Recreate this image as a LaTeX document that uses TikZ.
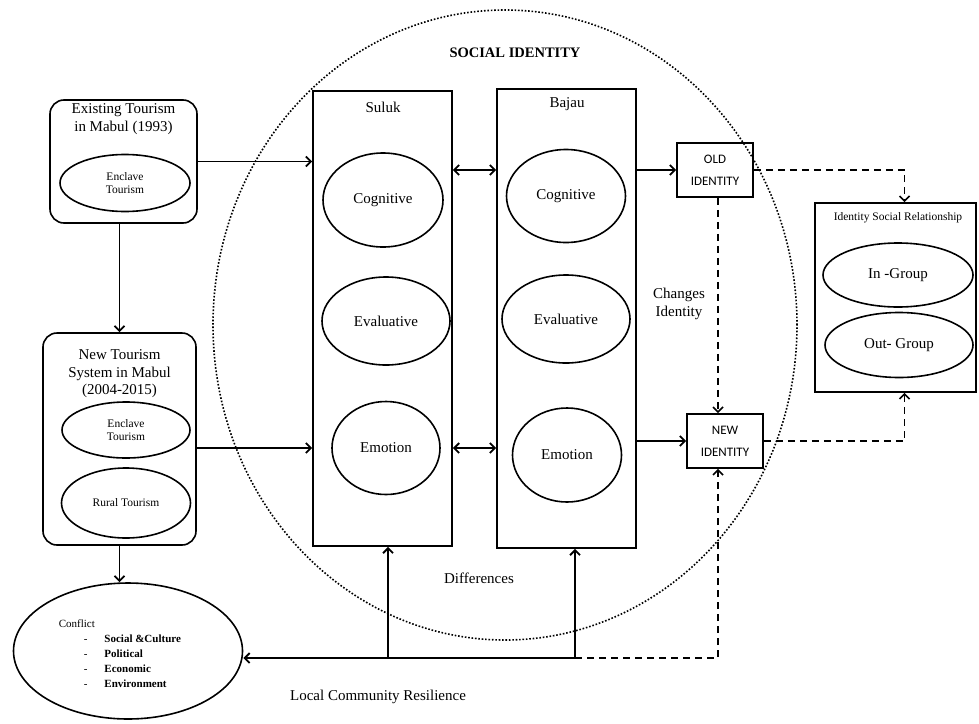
\documentclass[tikz,border=0pt]{standalone}
\usepackage{fontspec}
\setmainfont{Liberation Serif}
\newfontfamily\idfont{Carlito}
\usetikzlibrary{shapes.geometric,arrows.meta}

\begin{document}
\begin{tikzpicture}[x=1pt,y=-1pt,font=\fontsize{15}{17.5}\selectfont]
	\useasboundingbox (0,0) rectangle (979,723);
	\begin{scope}[line width=1.6pt,>={Straight Barb[length=5pt,width=10pt]}]
		\tikzstyle{every node}=[inner sep=0pt,align=center];
		\tikzstyle{rbox}=[draw,line width=1.6pt,rounded corners=14pt];
		\tikzstyle{sbox}=[draw,line width=1.6pt];
		\tikzstyle{oval}=[draw,line width=1.6pt,ellipse];
		\tikzstyle{small}=[font=\fontsize{11.5}{13}\selectfont];
		\tikzstyle{idtxt}=[font=\idfont\fontsize{13}{22}\selectfont];
		\tikzstyle{conn}=[line width=1.9pt];
		\tikzstyle{dashln}=[line width=1.7pt,dash pattern=on 7pt off 5pt];
		% social identity region
		\path (505,325) node [draw,ellipse,line width=1.6pt,dash pattern=on 1.6pt off 1.8pt,minimum width=584,minimum height=630] (socid) {};
		\path (515,53)  node [font=\bfseries\fontsize{14.5}{16}\selectfont] (sidtitle) {SOCIAL IDENTITY};
		% tourism
		\path (123.5,161.5) node [rbox,minimum width=147,minimum height=123] (existing) {} ;
		\path (123.5,119)   node (existtxt) {Existing Tourism\\in Mabul (1993)};
		\path (125,183)     node [oval,small,minimum width=130,minimum height=57] (exenc) {Enclave\\Tourism};
		\path (119.5,439)   node [rbox,minimum width=153,minimum height=212] (newsys) {};
		\path (119.5,374)   node (newtxt) {New Tourism\\System in Mabul\\(2004-2015)};
		\path (126,430)     node [oval,small,minimum width=128,minimum height=56] (nwenc) {Enclave\\Tourism};
		\path (126,503)     node [oval,small,minimum width=129,minimum height=70] (nwrur) {Rural Tourism};
		% groups
		\path (382.5,318.5) node [sbox,minimum width=139,minimum height=455] (suluk) {};
		\path (383,107)     node (suluktxt) {Suluk};
		\path (566.5,318.5) node [sbox,minimum width=139,minimum height=459] (bajau) {};
		\path (567,104)     node (bajautxt) {Bajau};
		\path (383,200)     node [oval,minimum width=120,minimum height=94] (sulcog) {Cognitive};
		\path (386,321)     node [oval,minimum width=128,minimum height=88] (sulevl) {Evaluative};
		\path (386,448)     node [oval,minimum width=108,minimum height=93] (sulemo) {Emotion};
		\path (566,196)     node [oval,minimum width=119,minimum height=93] (bajcog) {Cognitive};
		\path (566,319)     node [oval,minimum width=128,minimum height=88] (bajevl) {Evaluative};
		\path (567,455)     node [oval,minimum width=109,minimum height=94] (bajemo) {Emotion};
		% identities
		\path (715,170)     node [sbox,idtxt,minimum width=76,minimum height=54] (oldid) {OLD\\IDENTITY};
		\path (725,441)     node [sbox,idtxt,minimum width=76,minimum height=54] (newid) {NEW\\IDENTITY};
		\path (679,304)     node (chgtxt) {Changes\\Identity};
		\path (895.5,297.5) node [sbox,minimum width=161,minimum height=189] (isr) {};
		\path (898,218)     node [small] (isrtxt) {Identity Social Relationship};
		\path (898,275)     node [oval,minimum width=150,minimum height=64] (ingrp) {In -Group};
		\path (899,345)     node [oval,minimum width=148,minimum height=65] (outgrp) {Out- Group};
		% conflict
		\path (128,651)     node [oval,minimum width=229,minimum height=136] (conflict) {};
		\path (58,619)      node [anchor=north west,align=left,font=\fontsize{11}{15}\selectfont] (conftxt) {Conflict\\
			\hspace*{25pt}-\hspace*{17pt}\textbf{Social \&Culture}\\
			\hspace*{25pt}-\hspace*{17pt}\textbf{Political}\\
			\hspace*{25pt}-\hspace*{17pt}\textbf{Economic}\\
			\hspace*{25pt}-\hspace*{17pt}\textbf{Environment}};
		\path (479,578)     node (difftxt) {Differences};
		\path (378,697)     node (lcrtxt) {Local Community Resilience};
		\coordinate (j1) at (388,658);
		\coordinate (j2) at (575,658);
		\coordinate (j3) at (718,658);
		
		\draw[conn,->] (newsys.north |- existing.south) -- (newsys.north);
		\draw[conn,->] (existing.east) -- (existing.east -| suluk.west);
		\draw[conn,->] (newsys.east |- sulemo) -- (suluk.west |- sulemo);
		\draw[conn,->] (newsys.south) -- (newsys.south |- conflict.north);
		\draw[conn,<->] (suluk.east |- oldid) -- (bajau.west |- oldid);
		\draw[conn,<->] (suluk.east |- sulemo) -- (bajau.west |- sulemo);
		\draw[conn,->] (bajau.east |- oldid) -- (oldid.west);
		\draw[conn,->] (bajau.east |- newid) -- (newid.west);
		\draw[dashln,->] (j3 |- oldid.south) -- (j3 |- newid.north);
		\draw[dashln,->] (oldid.east) -| ([xshift=9]isr.north);
		\draw[dashln,->] (newid.east) -| ([xshift=9]isr.south);
		\draw[conn,->] (j2) -- (j2 -| conflict.east);
		\draw[conn,->] (j1) -- (j1 |- suluk.south);
		\draw[conn,->] (j2) -- (j2 |- bajau.south);
		\draw[dashln,->] (j2) -- (j3) -- (j3 |- newid.south);
	\end{scope}
\end{tikzpicture}
\end{document}
